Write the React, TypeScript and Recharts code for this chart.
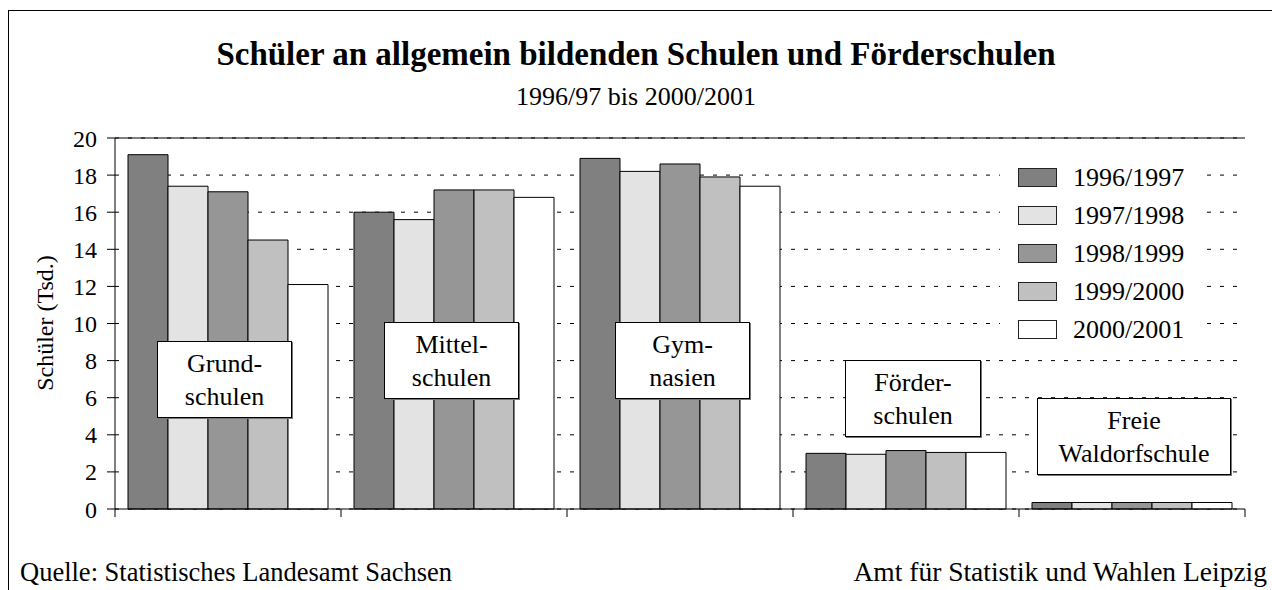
import { BarChart, Bar, XAxis, YAxis, CartesianGrid, ReferenceLine } from "recharts";

const categories = ["Grundschulen", "Mittelschulen", "Gymnasien", "Förderschulen", "Freie Waldorfschule"];

const s9697 = [19.1, 16.0, 18.9, 3.0, 0.35];
const s9798 = [17.4, 15.6, 18.2, 2.95, 0.35];
const s9899 = [17.1, 17.2, 18.6, 3.15, 0.35];
const s9900 = [14.5, 17.2, 17.9, 3.05, 0.35];
const s0001 = [12.1, 16.8, 17.4, 3.05, 0.35];

const seriesNames = ["1996/1997", "1997/1998", "1998/1999", "1999/2000", "2000/2001"];
const seriesValues = [s9697, s9798, s9899, s9900, s0001];
const colors = ["#808080", "#e3e3e3", "#969696", "#c0c0c0", "#ffffff"];

const yTicks = [0, 2, 4, 6, 8, 10, 12, 14, 16, 18, 20];

// in-chart labels (two lines each)
const boxLines = [
  ["Grund-", "schulen"],
  ["Mittel-", "schulen"],
  ["Gym-", "nasien"],
  ["Förder-", "schulen"],
  ["Freie", "Waldorfschule"],
];
const boxPos = [
  { left: 157, top: 341, width: 135 },
  { left: 384, top: 322, width: 135 },
  { left: 615, top: 322, width: 135 },
  { left: 845, top: 360, width: 136 },
  { left: 1037, top: 398, width: 194 },
];

const data = categories.map((name, i) => {
  const row: Record<string, string | number> = { name };
  seriesNames.forEach((s, k) => {
    row[s] = seriesValues[k][i];
  });
  return row;
});

const font = "'Liberation Serif', 'Times New Roman', serif";

const W = 1272;
const H = 590;
const margin = { top: 138, right: 27, bottom: 71, left: 45 };
const yAxisW = 70;
const xAxisH = 10;
const band = (W - margin.left - margin.right - yAxisW) / categories.length;

// tick marks at the category boundaries instead of the centres
const BoundaryTick = (props: any) => {
  const { x, y, index } = props;
  const left = x - band / 2;
  return (
    <g>
      <line x1={left} x2={left} y1={y} y2={y + 8} stroke="#000" />
      {index === categories.length - 1 && <line x1={x + band / 2} x2={x + band / 2} y1={y} y2={y + 8} stroke="#000" />}
    </g>
  );
};

export default function App() {
  return (
    <div
      style={{
        position: "absolute",
        left: 0,
        top: 0,
        width: W,
        height: H,
        overflow: "hidden",
        background: "#fff",
        fontFamily: font,
        color: "#000",
      }}
    >
      <div
        style={{
          position: "absolute",
          left: 8,
          top: 10,
          width: 1300,
          height: 640,
          border: "1px solid #000",
          boxSizing: "border-box",
        }}
      />
      <div style={{ position: "absolute", left: 0, top: 0 }}>
        <BarChart width={W} height={H} data={data} margin={margin} barCategoryGap={13} barGap={0}>
          <CartesianGrid vertical={false} stroke="#000" strokeDasharray="4 9" />
          <XAxis
            dataKey="name"
            height={xAxisH}
            interval={0}
            tickSize={0}
            tickMargin={0}
            tickLine={false}
            tick={<BoundaryTick />}
            axisLine={{ stroke: "#000" }}
          />
          <YAxis
            width={yAxisW}
            domain={[0, 20]}
            ticks={yTicks}
            interval={0}
            tickSize={8}
            tickMargin={10}
            axisLine={{ stroke: "#000" }}
            tickLine={{ stroke: "#000" }}
            tick={{ fill: "#000", fontSize: 24, fontFamily: font }}
          />
          <YAxis
            yAxisId="r"
            orientation="right"
            width={0}
            domain={[0, 20]}
            tick={false}
            tickLine={false}
            axisLine={{ stroke: "#000" }}
          />
          <ReferenceLine y={20} stroke="#000" />
          {seriesNames.map((s, k) => (
            <Bar key={s} dataKey={s} fill={colors[k]} stroke="#000" strokeWidth={1} isAnimationActive={false} />
          ))}
        </BarChart>
      </div>

      <div
        style={{
          position: "absolute",
          left: 0,
          width: W,
          top: 34,
          textAlign: "center",
          fontSize: 33,
          fontWeight: "bold",
          lineHeight: "40px",
        }}
      >
        Schüler an allgemein bildenden Schulen und Förderschulen
      </div>
      <div
        style={{
          position: "absolute",
          left: 0,
          width: W,
          top: 81,
          textAlign: "center",
          fontSize: 26,
          lineHeight: "32px",
        }}
      >
        1996/97 bis 2000/2001
      </div>

      <div
        style={{
          position: "absolute",
          left: 45 - 100,
          top: 323 - 15,
          width: 200,
          height: 30,
          lineHeight: "30px",
          textAlign: "center",
          fontSize: 24,
          transform: "rotate(-90deg)",
        }}
      >
        Schüler (Tsd.)
      </div>

      <div
        style={{
          position: "absolute",
          left: 1000,
          top: 157,
          width: 207,
          height: 193,
          background: "#fff",
        }}
      >
        {seriesNames.map((s, k) => (
          <div key={s} style={{ position: "absolute", left: 0, top: 2 + k * 38, height: 38, width: 207 }}>
            <div
              style={{
                position: "absolute",
                left: 18,
                top: 9,
                width: 39,
                height: 19,
                boxSizing: "border-box",
                background: colors[k],
                border: "1px solid #222",
              }}
            />
            <div style={{ position: "absolute", left: 73, top: 0, lineHeight: "38px", fontSize: 26 }}>{s}</div>
          </div>
        ))}
      </div>

      {boxLines.map((lines, i) => (
        <div
          key={i}
          style={{
            position: "absolute",
            left: boxPos[i].left,
            top: boxPos[i].top,
            width: boxPos[i].width,
            height: 77,
            boxSizing: "border-box",
            background: "#fff",
            border: "1px solid #000",
            boxShadow: "1px 1px 0 #777",
            textAlign: "center",
            fontSize: 26,
            lineHeight: "33px",
            paddingTop: 5,
          }}
        >
          {lines[0]}
          <br />
          {lines[1]}
        </div>
      ))}

      <div style={{ position: "absolute", left: 20, top: 557, fontSize: 26.5, lineHeight: "30px", whiteSpace: "nowrap" }}>
        Quelle: Statistisches Landesamt Sachsen
      </div>
      <div style={{ position: "absolute", right: 5, top: 557, fontSize: 27.5, lineHeight: "30px", whiteSpace: "nowrap" }}>
        Amt für Statistik und Wahlen Leipzig
      </div>
    </div>
  );
}
